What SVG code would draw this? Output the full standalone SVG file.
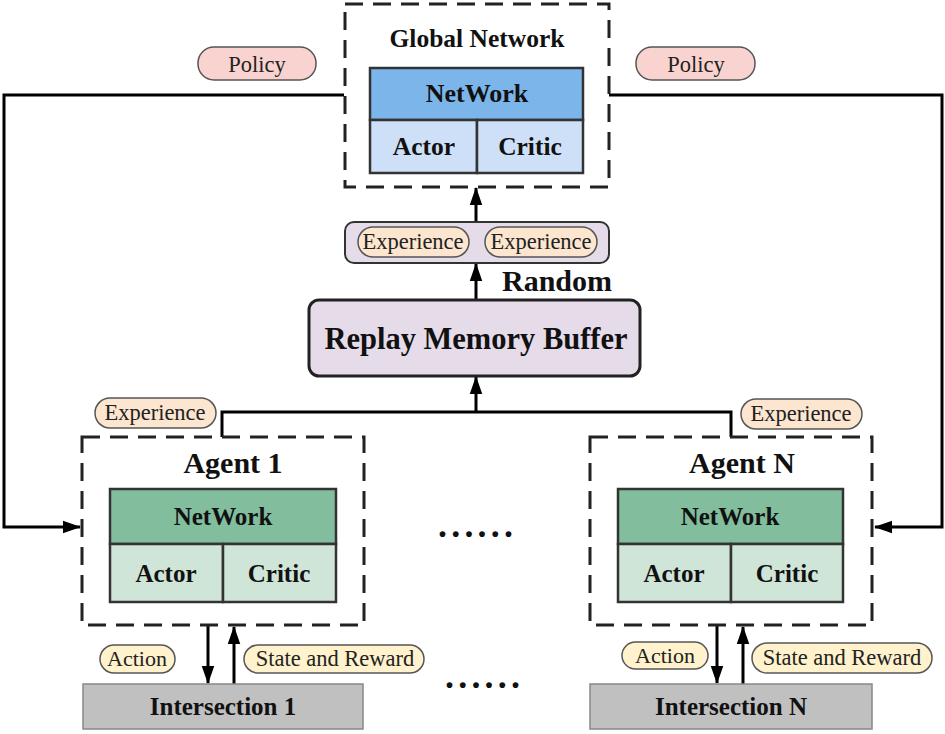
<svg xmlns="http://www.w3.org/2000/svg" width="945" height="734" viewBox="0 0 945 734">
<defs>
<marker id="ah" viewBox="0 0 10 10" refX="9.5" refY="5" markerWidth="6" markerHeight="6" orient="auto" markerUnits="strokeWidth">
<path d="M0,1.5 L10,5 L0,8.5 z" fill="#000"/>
</marker>
<style>
.dash{fill:none;stroke:#222;stroke-width:3;stroke-dasharray:18 10}
.cell{stroke:#333;stroke-width:2.5}
.b{font-family:"Liberation Serif","Times New Roman",serif;font-weight:bold;fill:#111;text-anchor:middle}
.r{font-family:"Liberation Serif","Times New Roman",serif;fill:#222;text-anchor:middle}
.pill{stroke:#555;stroke-width:1.5}
.line{fill:none;stroke:#000;stroke-width:3}
</style>
</defs>
<rect width="945" height="734" fill="#fff"/>

<g id="connectors">
<polyline class="line" points="344,95 4,95 4,527 80,527" marker-end="url(#ah)"/>
<polyline class="line" points="609,95 942,95 942,527 875,527" marker-end="url(#ah)"/>
<line class="line" x1="476" y1="222" x2="476" y2="188" marker-end="url(#ah)"/>
<line class="line" x1="476" y1="300" x2="476" y2="264" marker-end="url(#ah)"/>
<line class="line" x1="476" y1="412" x2="476" y2="377" marker-end="url(#ah)"/>
<polyline class="line" points="222,437 222,412 731,412 731,437"/>
<line class="line" x1="208" y1="625" x2="208" y2="683" marker-end="url(#ah)"/>
<line class="line" x1="234" y1="684" x2="234" y2="627" marker-end="url(#ah)"/>
<line class="line" x1="717" y1="625" x2="717" y2="683" marker-end="url(#ah)"/>
<line class="line" x1="743" y1="684" x2="743" y2="627" marker-end="url(#ah)"/>
</g>

<g id="global-network">
<rect class="dash" x="345" y="4" width="264" height="183"/>
<text class="b" x="477" y="47" font-size="25.5">Global Network</text>
<rect class="cell" x="370" y="68" width="213" height="52" fill="#7cb5ea"/>
<rect class="cell" x="370" y="120" width="107" height="53" fill="#cde0f7"/>
<rect class="cell" x="477" y="120" width="106" height="53" fill="#cde0f7"/>
<text class="b" x="477" y="102" font-size="26">NetWork</text>
<text class="b" x="424" y="155" font-size="25.5">Actor</text>
<text class="b" x="530" y="155" font-size="25.5">Critic</text>
</g>

<g id="policy-left">
<rect class="pill" x="198" y="47" width="118" height="33" rx="16" fill="#f9d3d0"/>
<text class="r" x="257" y="72" font-size="22.5">Policy</text>
</g>
<g id="policy-right">
<rect class="pill" x="636" y="47" width="119" height="33" rx="16" fill="#f9d3d0"/>
<text class="r" x="696" y="72" font-size="22.5">Policy</text>
</g>

<g id="experience-batch">
<rect x="345" y="222" width="264" height="41" rx="9" fill="#e6dbe9" stroke="#333" stroke-width="2"/>
<rect class="pill" x="358" y="227" width="111" height="30" rx="15" fill="#fce6cf"/>
<text class="r" x="413" y="249" font-size="22.5">Experience</text>
<rect class="pill" x="485" y="227" width="112" height="30" rx="15" fill="#fce6cf"/>
<text class="r" x="541" y="249" font-size="22.5">Experience</text>
</g>

<g id="random-label">
<text class="b" x="557" y="291" font-size="30">Random</text>
</g>

<g id="replay-buffer">
<rect x="309" y="300" width="331" height="76" rx="10" fill="#e6dbe9" stroke="#222" stroke-width="3"/>
<text class="b" x="476" y="349" font-size="30.5">Replay Memory Buffer</text>
</g>

<g id="experience-left">
<rect class="pill" x="95" y="398" width="121" height="30" rx="15" fill="#fce6cf"/>
<text class="r" x="155" y="420" font-size="22.5">Experience</text>
</g>
<g id="experience-right">
<rect class="pill" x="741" y="399" width="121" height="30" rx="15" fill="#fce6cf"/>
<text class="r" x="801" y="421" font-size="22.5">Experience</text>
</g>

<g id="agent-1">
<rect class="dash" x="82" y="437" width="282" height="188"/>
<text class="b" x="233" y="473" font-size="30">Agent 1</text>
<rect class="cell" x="110" y="489" width="226" height="55" fill="#82bd9e"/>
<rect class="cell" x="110" y="544" width="113" height="58" fill="#cfe5d8"/>
<rect class="cell" x="223" y="544" width="113" height="58" fill="#cfe5d8"/>
<text class="b" x="223" y="525" font-size="25">NetWork</text>
<text class="b" x="166" y="582" font-size="25">Actor</text>
<text class="b" x="279" y="582" font-size="25">Critic</text>
</g>

<g id="agent-n">
<rect class="dash" x="590" y="437" width="282" height="188"/>
<text class="b" x="742" y="473" font-size="30">Agent N</text>
<rect class="cell" x="618" y="489" width="225" height="55" fill="#82bd9e"/>
<rect class="cell" x="618" y="544" width="113" height="58" fill="#cfe5d8"/>
<rect class="cell" x="731" y="544" width="112" height="58" fill="#cfe5d8"/>
<text class="b" x="730" y="525" font-size="25">NetWork</text>
<text class="b" x="674" y="582" font-size="25">Actor</text>
<text class="b" x="787" y="582" font-size="25">Critic</text>
</g>

<g id="dots-agents">
<text class="b" x="438" y="537" font-size="36" letter-spacing="4.2" style="text-anchor:start">......</text>
</g>
<g id="dots-intersections">
<text class="b" x="445" y="688" font-size="36" letter-spacing="4.2" style="text-anchor:start">......</text>
</g>

<g id="action-1">
<rect class="pill" x="100" y="645" width="75" height="28" rx="14" fill="#fff2cc"/>
<text class="r" x="137" y="666" font-size="22">Action</text>
</g>
<g id="state-1">
<rect class="pill" x="244" y="645" width="180" height="28" rx="14" fill="#fff2cc"/>
<text class="r" x="335" y="666" font-size="22.5">State and Reward</text>
</g>
<g id="action-n">
<rect class="pill" x="622" y="642" width="86" height="27" rx="13.5" fill="#fff2cc"/>
<text class="r" x="665" y="663" font-size="22">Action</text>
</g>
<g id="state-n">
<rect class="pill" x="752" y="643" width="180" height="30" rx="15" fill="#fff2cc"/>
<text class="r" x="842" y="665" font-size="22.5">State and Reward</text>
</g>

<g id="intersection-1">
<rect x="83" y="684" width="280" height="45" fill="#c0c0c0" stroke="#888" stroke-width="1.5"/>
<text class="b" x="223" y="715" font-size="25">Intersection 1</text>
</g>
<g id="intersection-n">
<rect x="590" y="684" width="282" height="45" fill="#c0c0c0" stroke="#888" stroke-width="1.5"/>
<text class="b" x="731" y="715" font-size="25">Intersection N</text>
</g>
</svg>
